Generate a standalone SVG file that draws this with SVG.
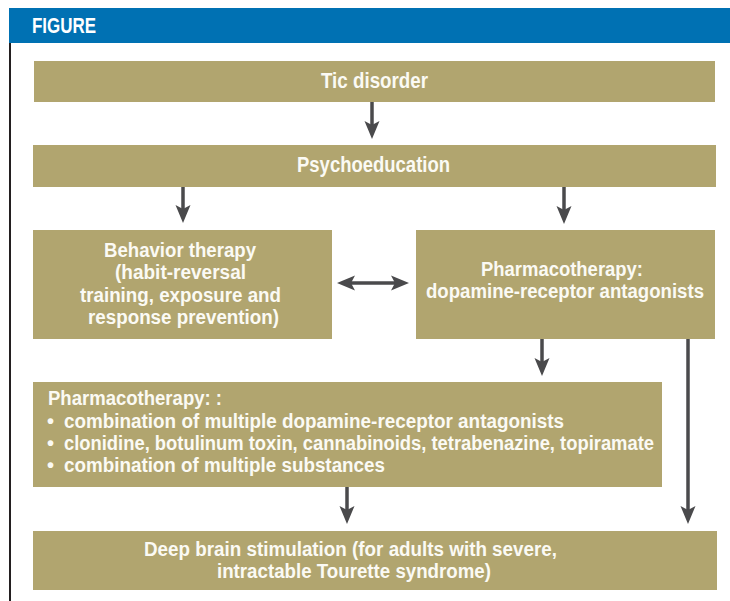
<svg xmlns="http://www.w3.org/2000/svg" width="730" height="601" viewBox="0 0 730 601">
<style>
.box{fill:#B1A56F}
.t{font-family:"Liberation Sans",Arial,sans-serif;font-weight:bold;font-size:20px;fill:#FBFAF4}
.big{font-size:21.5px}
.c{stroke:#4A4A4C;stroke-width:3.5;fill:none}
</style>
<defs>
<marker id="ah" markerUnits="userSpaceOnUse" markerWidth="18" markerHeight="16" refX="8" refY="7.5" orient="auto-start-reverse" viewBox="0 0 18 15">
<path d="M0,0 L18,7.5 L0,15 L4,7.5 Z" fill="#4A4A4C"/>
</marker>
</defs>
<rect width="730" height="601" fill="#ffffff"/>
<g id="header">
<rect x="9" y="8" width="721" height="35" fill="#0071B3"/>
<text x="32" y="33" font-family="'Liberation Sans',Arial,sans-serif" font-weight="bold" font-size="21.5" fill="#ffffff" textLength="64" lengthAdjust="spacingAndGlyphs">FIGURE</text>
<rect x="9" y="43" width="2" height="558" fill="#231F20"/>
</g>
<g id="connectors">
<line class="c" x1="372" y1="102" x2="372" y2="129" marker-end="url(#ah)"/>
<line class="c" x1="183" y1="187" x2="183" y2="213" marker-end="url(#ah)"/>
<line class="c" x1="564" y1="187" x2="564" y2="214" marker-end="url(#ah)"/>
<line class="c" x1="347" y1="283" x2="399" y2="283" marker-start="url(#ah)" marker-end="url(#ah)"/>
<line class="c" x1="542" y1="339" x2="542" y2="366" marker-end="url(#ah)"/>
<line class="c" x1="347" y1="487" x2="347" y2="514" marker-end="url(#ah)"/>
<line class="c" x1="688" y1="339" x2="688" y2="514" marker-end="url(#ah)"/>
</g>
<g id="tic">
<rect class="box" x="34" y="61" width="681" height="41"/>
<text class="t big" x="321" y="88" textLength="107" lengthAdjust="spacingAndGlyphs">Tic disorder</text>
</g>
<g id="psychoeducation">
<rect class="box" x="33" y="145" width="683" height="42"/>
<text class="t big" x="297" y="172" textLength="153" lengthAdjust="spacingAndGlyphs">Psychoeducation</text>
</g>
<g id="behavior">
<rect class="box" x="33" y="230" width="299" height="109"/>
<text class="t" x="104" y="257" textLength="152" lengthAdjust="spacingAndGlyphs">Behavior therapy</text>
<text class="t" x="115" y="279" textLength="131" lengthAdjust="spacingAndGlyphs">(habit-reversal</text>
<text class="t" x="80" y="302" textLength="201" lengthAdjust="spacingAndGlyphs">training, exposure and</text>
<text class="t" x="88" y="324" textLength="191" lengthAdjust="spacingAndGlyphs">response prevention)</text>
</g>
<g id="pharma1">
<rect class="box" x="416" y="230" width="299" height="109"/>
<text class="t" x="481" y="276" textLength="162" lengthAdjust="spacingAndGlyphs">Pharmacotherapy:</text>
<text class="t" x="426" y="298" textLength="278" lengthAdjust="spacingAndGlyphs">dopamine-receptor antagonists</text>
</g>
<g id="pharma2">
<rect class="box" x="33" y="382" width="629" height="105"/>
<text class="t" x="48" y="405" textLength="174" lengthAdjust="spacingAndGlyphs">Pharmacotherapy: :</text>
<text class="t" x="47" y="428">•</text>
<text class="t" x="64" y="428" textLength="500" lengthAdjust="spacingAndGlyphs">combination of multiple dopamine-receptor antagonists</text>
<text class="t" x="47" y="450">•</text>
<text class="t" x="64" y="450" textLength="590" lengthAdjust="spacingAndGlyphs">clonidine, botulinum toxin, cannabinoids, tetrabenazine, topiramate</text>
<text class="t" x="47" y="472">•</text>
<text class="t" x="64" y="472" textLength="321" lengthAdjust="spacingAndGlyphs">combination of multiple substances</text>
</g>
<g id="dbs">
<rect class="box" x="33" y="531" width="684" height="59"/>
<text class="t" x="144" y="556" textLength="413" lengthAdjust="spacingAndGlyphs">Deep brain stimulation (for adults with severe,</text>
<text class="t" x="217" y="578" textLength="274" lengthAdjust="spacingAndGlyphs">intractable Tourette syndrome)</text>
</g>
</svg>
